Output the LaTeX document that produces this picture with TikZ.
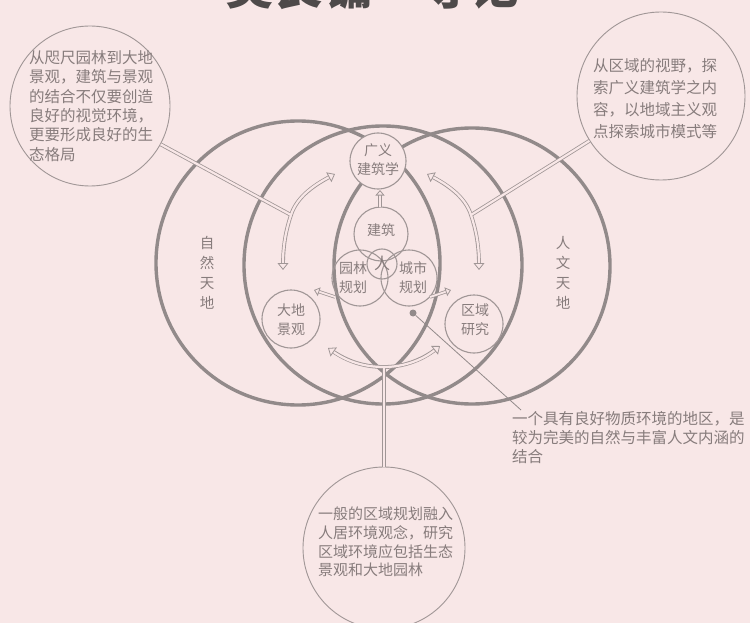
\documentclass[tikz,border=0pt]{standalone}
\usepackage{fontspec}
\newfontfamily\cjk{Noto Sans CJK SC}
\usetikzlibrary{arrows.meta}
\definecolor{bgc}{RGB}{248,231,231}
\definecolor{lc}{RGB}{146,138,138}
\definecolor{lc2}{RGB}{160,150,150}
\definecolor{tc}{RGB}{135,124,124}
\definecolor{titlec}{RGB}{78,74,74}
\tikzset{
  bigc/.style={circle, draw=lc, line width=3.4pt, inner sep=0pt},
  smc/.style={circle, draw=lc2, line width=1.1pt, inner sep=0pt},
  annc/.style={circle, draw=lc2, line width=0.9pt, inner sep=0pt},
  smtxt/.style={inner sep=0pt, align=center, text=tc, font=\cjk\fontsize{14}{19}\selectfont},
  anntxt/.style={inner sep=0pt, anchor=north west, align=left, text=tc, font=\cjk\fontsize{15.5}{19.4}\selectfont},
  bandout/.style={lc2, line width=3.8pt},
  bandin/.style={bgc, line width=2.2pt},
  htip/.tip={Triangle[length=7pt,width=11pt,color=lc2,fill=bgc,line width=0.8pt]},
  stip/.tip={Triangle[length=5.5pt,width=9pt,color=lc2,fill=bgc,line width=0.8pt]},
}
\begin{document}
\begin{tikzpicture}[x=1pt,y=-1pt]
\useasboundingbox (0,0) rectangle (750,623);
\fill[bgc] (0,0) rectangle (750,623);
\clip (0,0) rectangle (750,623);

% title (cut off at the top edge, as in the reference)
\node[anchor=base, inner sep=0pt, text=titlec, font=\cjk\bfseries\fontsize{49}{49}\selectfont] (title) at (372,5) {吴良镛一导论};

% big circles
\node[bigc, minimum size=284pt] (nat) at (298,263) {};
\node[bigc, minimum size=278pt] (mid) at (383,265) {};
\node[bigc, minimum size=276pt] (hum) at (472,266) {};

% annotation circles
\node[annc, minimum size=160pt] (tl) at (90,106) {};
\node[annc, minimum size=168pt] (tr) at (661,96) {};
\node[annc, minimum size=162pt] (bc) at (384,548) {};

% small circles
\node[smc, fill=bgc, minimum size=56pt] (gy) at (378,161) {};
\node[smc, minimum size=54pt] (jz) at (381,234) {};
\node[smc, minimum size=56pt] (yl) at (360,278) {};
\node[smc, minimum size=56pt] (cs) at (409,278) {};
\node[smc, minimum size=30pt] (ren) at (382,264) {};
\node[smc, fill=bgc, minimum size=58pt] (dd) at (291,319) {};
\node[smc, fill=bgc, minimum size=58pt] (qy) at (474,324) {};

% small circle texts
\node[smtxt] (tgy) at (378,160) {广义\\建筑学};
\node[smtxt] (tjz) at (381,230) {建筑};
\node[smtxt] (tyl) at (353,278) {园林\\规划};
\node[smtxt] (tcs) at (413,278) {城市\\规划};
\node[smtxt, font=\cjk\fontsize{16}{19}\selectfont] (tren) at (382,263) {人};
\node[smtxt] (tdd) at (291,320) {大地\\景观};
\node[smtxt] (tqy) at (475,320) {区域\\研究};

% vertical labels
\node[smtxt, font=\cjk\fontsize{14.5}{20}\selectfont] (zr) at (207,273) {自\\然\\天\\地};
\node[smtxt, font=\cjk\fontsize{14.5}{20}\selectfont] (rw) at (563,273) {人\\文\\天\\地};

% annotation texts
\node[anntxt] (ttl) at (29,50) {从咫尺园林到大地\\景观，建筑与景观\\的结合不仅要创造\\良好的视觉环境，\\更要形成良好的生\\态格局};
\node[anntxt, font=\cjk\fontsize{15.5}{22}\selectfont] (ttr) at (593,58) {从区域的视野，探\\索广义建筑学之内\\容，以地域主义观\\点探索城市模式等};
\node[anntxt, font=\cjk\fontsize{15}{18.7}\selectfont] (tbc) at (318,507) {一般的区域规划融入\\人居环境观念，研究\\区域环境应包括生态\\景观和大地园林};
\node[anntxt, font=\cjk\fontsize{15.5}{19}\selectfont] (tra) at (512,411) {一个具有良好物质环境的地区，是\\较为完美的自然与丰富人文内涵的\\结合};

% dot and leader
\node[circle, fill=lc, inner sep=0pt, minimum size=7pt] (dot) at (413,313) {};
\coordinate (le) at (521,410);
\draw[lc, line width=0.8pt] (dot) -- (le);

% hollow arrows
\coordinate (J1) at (291,215);
\coordinate (L1) at (283,270);
\coordinate (L2) at (335,174);
\coordinate (J2) at (471,215);
\coordinate (R1) at (479,270);
\coordinate (R2) at (427,174);
\coordinate (J3) at (384,367);
\coordinate (B1) at (328,348);
\coordinate (B2) at (440,346);
\coordinate (U1) at (380,207);
\coordinate (U2) at (380,190);
\coordinate (S1) at (335,297);
\coordinate (S2) at (314,290);
\coordinate (S3) at (430,297);
\coordinate (S4) at (451,290);

% outer pass
\draw[bandout, shorten <=4pt, shorten >=4pt] (L1) .. controls (283,245) and (286,230) .. (J1) .. controls (297,196) and (316,184) .. (L2);
\draw[bandout] (tl) -- (J1);
\draw[bandout, shorten <=4pt, shorten >=4pt] (R1) .. controls (479,245) and (476,230) .. (J2) .. controls (465,196) and (446,184) .. (R2);
\draw[bandout] (tr) -- (J2);
\draw[bandout, shorten <=4pt, shorten >=4pt] (B1) .. controls (348,362) and (365,367) .. (J3) .. controls (402,367) and (421,361) .. (B2);
\draw[bandout] (bc) -- (J3);
\draw[bandout, line width=3.4pt, shorten >=3pt] (U1) -- (U2);
\draw[bandout, line width=3.4pt, shorten >=3pt] (S1) -- (S2);
\draw[bandout, line width=3.4pt, shorten >=3pt] (S3) -- (S4);

% inner pass with heads
\draw[bandin, htip-htip] (L1) .. controls (283,245) and (286,230) .. (J1) .. controls (297,196) and (316,184) .. (L2);
\draw[bandin] (tl) -- (J1);
\draw[bandin, htip-htip] (R1) .. controls (479,245) and (476,230) .. (J2) .. controls (465,196) and (446,184) .. (R2);
\draw[bandin] (tr) -- (J2);
\draw[bandin, htip-htip] (B1) .. controls (348,362) and (365,367) .. (J3) .. controls (402,367) and (421,361) .. (B2);
\draw[bandin] (bc) -- (J3);
\draw[bandin, line width=1.8pt, -stip] (U1) -- (U2);
\draw[bandin, line width=1.8pt, -stip] (S1) -- (S2);
\draw[bandin, line width=1.8pt, -stip] (S3) -- (S4);
\end{tikzpicture}
\end{document}
